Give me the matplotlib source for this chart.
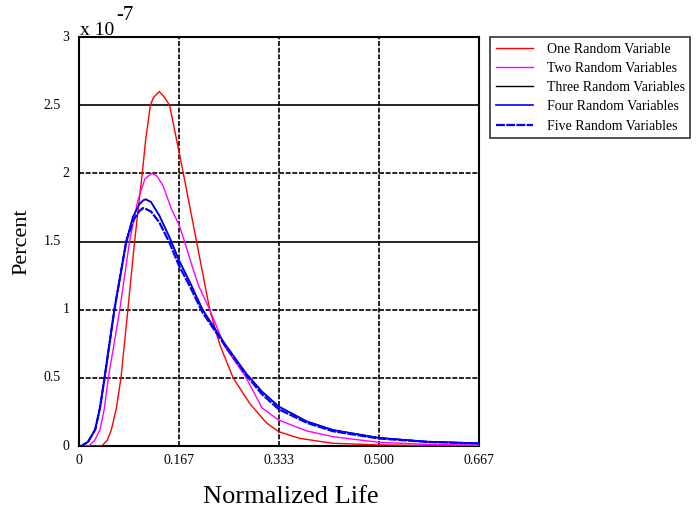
import matplotlib.pyplot as plt

plt.rcParams['font.family'] = ['Liberation Serif', 'DejaVu Serif']

# values in units of 1e-7
one_x = [0, 0.0376, 0.047, 0.054, 0.062, 0.07, 0.0815, 0.0927, 0.1055, 0.111, 0.119,
         0.124, 0.134, 0.143, 0.151, 0.163, 0.174, 0.185, 0.196, 0.207, 0.218, 0.235,
         0.257, 0.285, 0.3125, 0.333, 0.368, 0.423, 0.5, 0.58, 0.667]
one_y = [0, 0, 0.04, 0.12, 0.27, 0.5, 1.0, 1.5, 2.0, 2.24, 2.5,
         2.555, 2.6, 2.555, 2.5, 2.24, 2.0, 1.75, 1.5, 1.25, 1.0, 0.74,
         0.5, 0.31, 0.17, 0.105, 0.056, 0.02, 0.008, 0.004, 0.002]

two_x = [0, 0.016, 0.026, 0.035, 0.042, 0.049, 0.068, 0.0843, 0.098, 0.11, 0.1215,
         0.13, 0.14, 0.154, 0.167, 0.176, 0.19, 0.2, 0.218, 0.243, 0.279, 0.305,
         0.333, 0.38, 0.424, 0.5, 0.58, 0.667]
two_y = [0, 0, 0.04, 0.12, 0.27, 0.5, 1.0, 1.5, 1.8, 1.96, 2.0,
         1.98, 1.91, 1.74, 1.62, 1.5, 1.3, 1.17, 1.0, 0.73, 0.5, 0.28,
         0.19, 0.11, 0.068, 0.027, 0.012, 0.006]

many_x = [0, 0.004, 0.015, 0.027, 0.035, 0.0426, 0.059, 0.0788, 0.0899, 0.1, 0.1065,
          0.111, 0.12, 0.134, 0.151, 0.167, 0.185, 0.206, 0.243, 0.279, 0.305, 0.333,
          0.38, 0.424, 0.5, 0.58, 0.667]
three_y = [0, 0, 0.03, 0.12, 0.28, 0.5, 1.0, 1.5, 1.68, 1.77, 1.80,
           1.81, 1.79, 1.69, 1.53, 1.36, 1.2, 1.0, 0.75, 0.53, 0.4, 0.29,
           0.18, 0.117, 0.06, 0.032, 0.02]
four_y = [0, 0, 0.03, 0.12, 0.28, 0.5, 1.0, 1.5, 1.68, 1.77, 1.80,
          1.81, 1.79, 1.69, 1.53, 1.36, 1.2, 1.0, 0.75, 0.53, 0.4, 0.29,
          0.18, 0.117, 0.06, 0.032, 0.02]
five_y = [0, 0, 0.03, 0.12, 0.28, 0.5, 1.0, 1.5, 1.65, 1.72, 1.745,
          1.74, 1.72, 1.64, 1.49, 1.32, 1.17, 0.98, 0.74, 0.52, 0.38, 0.27,
          0.17, 0.108, 0.055, 0.03, 0.018]

x_ticks = [0, 0.167, 0.333, 0.5, 0.667]
x_labels = ['0', '0.167', '0.333', '0.500', '0.667']
y_ticks = [0, 0.5, 1, 1.5, 2, 2.5, 3]
y_labels = ['0', '0.5', '1', '1.5', '2', '2.5', '3']

fig = plt.figure(figsize=(6.96, 5.16), dpi=100)
ax = fig.add_axes([79 / 696, 1 - 446 / 516, 400 / 696, 409 / 516])

# grid
for yv, ls in zip([0.5, 1, 1.5, 2, 2.5], ['dash', 'dash', 'solid', 'dash', 'solid']):
    ax.axhline(yv, color='black', lw=1.2, zorder=1,
               linestyle=(0, (3, 1)) if ls == 'dash' else '-')
for xv in [0.167, 0.333, 0.5]:
    ax.axvline(xv, color='black', lw=1.2, linestyle=(0, (3, 1)), zorder=1)

ax.plot(one_x, one_y, color='red', lw=1.0, label='One Random Variable', zorder=3)
ax.plot(two_x, two_y, color='magenta', lw=1.0, label='Two Random Variables', zorder=3)
ax.plot(many_x, three_y, color='black', lw=1.0, label='Three Random Variables', zorder=2)
ax.plot(many_x, four_y, color='blue', lw=1.2, label='Four Random Variables', zorder=4)
ax.plot(many_x, five_y, color='blue', lw=1.6, linestyle=(0, (4, 0.6)),
        label='Five Random Variables', zorder=4)

ax.set_xlim(0, 0.667)
ax.set_ylim(0, 3)
ax.set_xticks(x_ticks)
ax.set_xticklabels(x_labels)
ax.set_yticks(y_ticks)
ax.set_yticklabels([])
ax.tick_params(length=0, labelsize=10, pad=6)
for s in ax.spines.values():
    s.set_linewidth(1.5)
    s.set_color('black')

# y labels: whole numbers sit further right than the halves
for yv, lab in zip(y_ticks, y_labels):
    off = -7 if '.' not in lab else -13
    ax.annotate(lab, xy=(0, yv), xycoords=('axes fraction', 'data'),
                xytext=(off, 0), textcoords='offset points',
                ha='right', va='center', fontsize=10)

ax.set_xlabel('Normalized Life', fontsize=19)
ax.xaxis.set_label_coords(0.53, -0.098)
ax.set_ylabel('Percent', fontsize=16, labelpad=28)

fig.text(80 / 696, 1 - 35 / 516, 'x 10', fontsize=14, ha='left', va='baseline')
fig.text(116 / 696, 1 - 20 / 516, '-7', fontsize=15, ha='left', va='baseline')

leg = fig.legend(loc='upper left', bbox_to_anchor=(490 / 696, 1 - 37 / 516),
                 fontsize=10, frameon=True, fancybox=False, edgecolor='black',
                 handlelength=2.7, labelspacing=0.45, borderaxespad=0,
                 borderpad=0.4, handletextpad=1.0)
leg.get_frame().set_linewidth(1.2)

fig.savefig('out.png', dpi=100)
